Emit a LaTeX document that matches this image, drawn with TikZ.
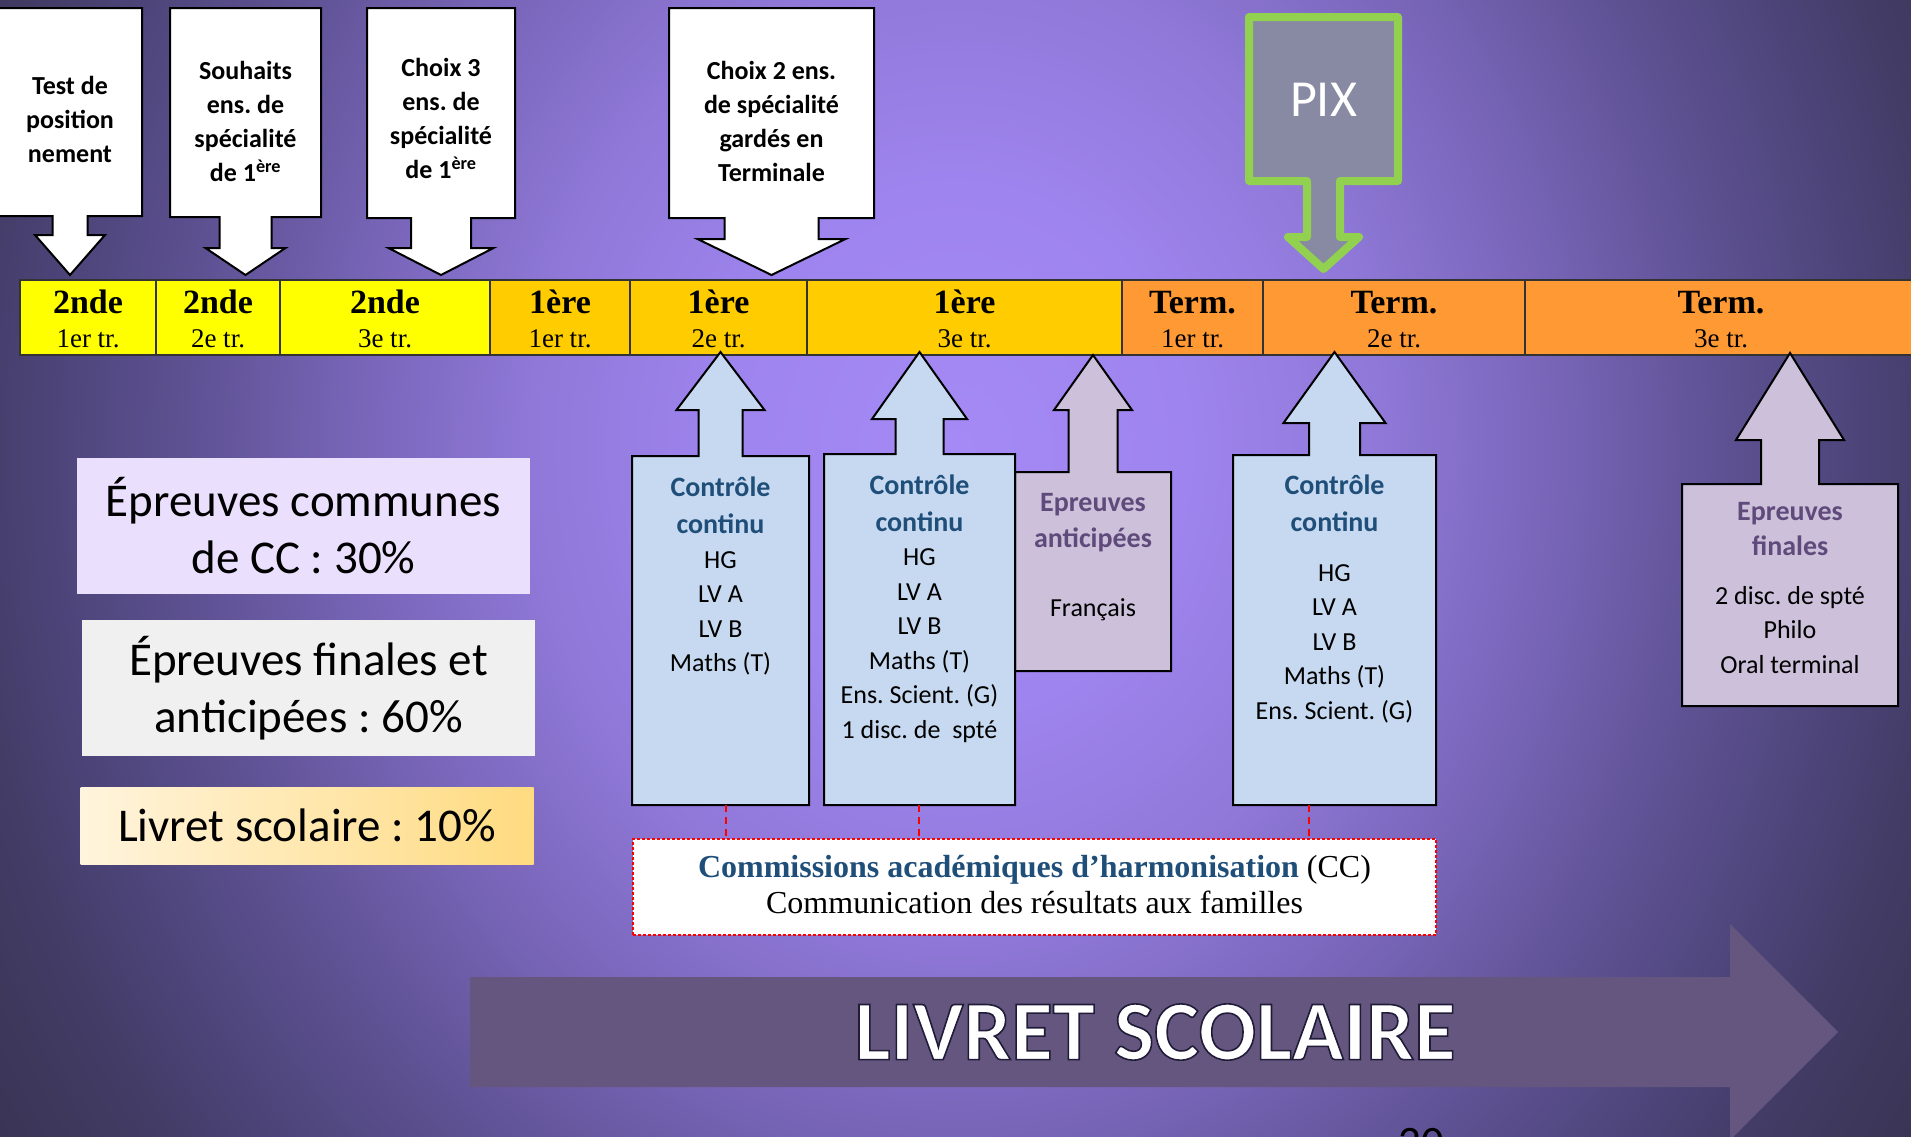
\documentclass[tikz,border=0pt]{standalone}
\usepackage{fontspec}
\setmainfont{Carlito}
\newfontfamily\timesfont{Liberation Serif}
\frenchspacing
\usetikzlibrary{positioning,calc}

\definecolor{bgzero}{RGB}{165,138,246}
\definecolor{bgone}{RGB}{158,132,238}
\definecolor{bgtwo}{RGB}{143,120,216}
\definecolor{bgthree}{RGB}{120,101,184}
\definecolor{bgfour}{RGB}{96,83,150}
\definecolor{bgfive}{RGB}{76,68,120}
\definecolor{bgsix}{RGB}{66,59,100}
\definecolor{bgseven}{RGB}{56,51,82}
\definecolor{secyellow}{RGB}{255,255,0}
\definecolor{premgold}{RGB}{255,204,0}
\definecolor{termorange}{RGB}{255,153,51}
\definecolor{ccblue}{RGB}{198,217,240}
\definecolor{ccnavy}{RGB}{31,78,121}
\definecolor{eplilac}{RGB}{204,192,218}
\definecolor{epplum}{RGB}{96,74,123}
\definecolor{pixgreen}{RGB}{146,208,80}
\definecolor{pixgray}{RGB}{135,138,162}
\definecolor{lavender}{RGB}{234,223,252}
\definecolor{palegray}{RGB}{240,240,240}
\definecolor{creamleft}{RGB}{255,244,221}
\definecolor{creamright}{RGB}{255,219,128}
\definecolor{livretplum}{RGB}{101,86,128}

\pgfdeclareradialshading{slidebg}{\pgfpoint{0bp}{0bp}}{color(0bp)=(bgzero); color(6bp)=(bgone); color(11bp)=(bgtwo); color(15.5bp)=(bgthree); color(19.5bp)=(bgfour); color(23.5bp)=(bgfive); color(26bp)=(bgsix); color(30bp)=(bgseven); color(50bp)=(bgseven)}

% box with an arrow: style, centre x, half width, edge with arrow, far edge,
% half shaft, half head, head base, tip
\newcommand{\callout}[9]{%
  \draw[#1] (#2-#3,#5) -- (#2-#3,#4) -- (#2-#6,#4) -- (#2-#6,#8) -- (#2-#7,#8)
    -- (#2,#9) -- (#2+#7,#8) -- (#2+#6,#8) -- (#2+#6,#4) -- (#2+#3,#4)
    -- (#2+#3,#5) -- cycle;}
% white letters with a dark rim
\newcommand{\rimtext}[1]{\special{pdf:literal direct 2 Tr 1.6 w 0.12 0.11 0.22 RG}#1\special{pdf:literal direct 0 Tr}}

\begin{document}
\begin{tikzpicture}[x=1pt, y=-1pt,
    every node/.style={inner sep=0pt},
    topbox/.style={draw=black, line width=2pt, fill=white},
    ccbox/.style={draw=black, line width=2pt, fill=ccblue},
    epbox/.style={draw=black, line width=2pt, fill=eplilac},
    pixbox/.style={draw=pixgreen, line width=8pt, line join=round, fill=pixgray},
    cell/.style={draw=black!80, line width=1.5pt},
    yrlabel/.style={anchor=base, font=\timesfont\bfseries\fontsize{34}{34}\selectfont},
    trlabel/.style={anchor=base, font=\timesfont\fontsize{27}{27}\selectfont},
    toptext/.style={align=center, font=\bfseries\fontsize{26}{34}\selectfont},
    cctitle/.style={align=center, text=ccnavy, font=\bfseries\fontsize{28}{37}\selectfont},
    eptitle/.style={align=center, text=epplum, font=\bfseries\fontsize{28}{35}\selectfont},
    ccbody/.style={align=center, font=\fontsize{26}{34.5}\selectfont},
    legend/.style={align=center, minimum width=453, font=\fontsize{47}{57}\selectfont},
    cclink/.style={draw=red, line width=1.5pt, dash pattern=on 7pt off 5pt}]

  \useasboundingbox (0,0) rectangle (1911,1136);
  \shade[shading=slidebg] (-10,-650) rectangle (1921,1550);

  % arrows from the top
  \callout{topbox}{70}{72}{216}{8}{17.5}{35}{235}{275}
  \callout{topbox}{245.5}{75.5}{217}{8}{26}{40}{248}{275}
  \callout{topbox}{441}{74}{218}{8}{30}{52.5}{248}{275}
  \callout{topbox}{771.5}{102.5}{218}{8}{47}{74}{239}{275}
  \callout{pixbox}{1323.5}{74.5}{181}{17}{16.5}{35.5}{237}{269}

  \node[toptext] (pos) at (70,119.5) {Test de\\position\\nement};
  \node[toptext] (souhaits) at (245.5,121.5) {Souhaits\\ens. de\\spécialité\\de 1\textsuperscript{ère}};
  \node[toptext] (choix3) at (441,118) {Choix 3\\ens. de\\spécialité\\de 1\textsuperscript{ère}};
  \node[toptext] (choix2) at (771.5,121.5) {Choix 2 ens.\\de spécialité\\gardés en\\Terminale};
  \node[text=white, font=\fontsize{52}{52}\selectfont] (pix) at (1323.5,100) {PIX};

  % timeline
  \foreach \xa/\xb/\col/\yr/\tr [count=\i] in {
      20/156/secyellow/2nde/1er tr.,
      156/280/secyellow/2nde/2e tr.,
      280/490/secyellow/2nde/3e tr.,
      490/630/premgold/1ère/1er tr.,
      630/807/premgold/1ère/2e tr.,
      807/1122/premgold/1ère/3e tr.,
      1122/1263/termorange/Term./1er tr.,
      1263/1525/termorange/Term./2e tr.,
      1525/1917/termorange/Term./3e tr.}{
    \draw[cell, fill=\col] (\xa,280) rectangle (\xb,355);
    \node[yrlabel] (yr\i) at ({(\xa+\xb)/2},313) {\yr};
    \node[trlabel] (tr\i) at ({(\xa+\xb)/2},347) {\tr};
  }

  % arrows from below
  \callout{ccbox}{720.5}{88.5}{456}{805}{22}{44}{410}{352}
  \callout{epbox}{1093}{78}{472}{671}{24.5}{39}{410}{355}
  \callout{ccbox}{919.5}{95.5}{454}{805}{24}{47.5}{419}{352}
  \callout{ccbox}{1334.5}{101.5}{455}{805}{25.5}{51}{423}{352}
  \callout{epbox}{1790}{108}{484}{706}{29}{54}{440}{353}

  \node[cctitle] (cc1) at (720.5,505) {Contrôle\\continu};
  \node[ccbody] (cc1list) at (720.5,613.5) {HG\\LV A\\LV B\\Maths (T)};
  \node[cctitle] (cc2) at (919.5,503.5) {Contrôle\\continu};
  \node[ccbody] (cc2list) at (919.5,645.5) {HG\\LV A\\LV B\\Maths (T)\\Ens. Scient. (G)\\1 disc. de~ spté};
  \node[eptitle, font=\bfseries\fontsize{28}{36}\selectfont] (ea) at (1093,522.5) {Epreuves\\anticipées};
  \node[ccbody] (ealist) at (1093,609.5) {Français};
  \node[cctitle] (cc3) at (1334.5,503.5) {Contrôle\\continu};
  \node[ccbody] (cc3list) at (1334.5,643.5) {HG\\LV A\\LV B\\Maths (T)\\Ens. Scient. (G)};
  \node[eptitle] (ef) at (1790,529) {Epreuves\\finales};
  \node[ccbody] (eflist) at (1790,630) {2 disc. de spté\\Philo\\Oral terminal};

  % weights
  \node[legend, fill=lavender, minimum height=136] (w30) at (303.5,526) {Épreuves communes\\de CC : 30\%};
  \node[legend, fill=palegray, minimum height=136] (w60) at (308.5,688) {Épreuves finales et\\anticipées : 60\%};
  \node[legend, left color=creamleft, right color=creamright, minimum height=77] (w10) at (307,825.5) {Livret scolaire : 10\%};

  % harmonisation
  \node[draw=red, line width=1.5pt, dash pattern=on 3pt off 2pt, fill=white,
        minimum width=803, minimum height=96] (cah) at (1034.5,887) {};
  \node[align=center, font=\timesfont\fontsize{32}{36}\selectfont] (cahtext) at (1034.5,884.5)
        {\textbf{\textcolor{ccnavy}{Commissions académiques d’harmonisation}} (CC)\\Communication des résultats aux familles};
  \coordinate (cc1foot) at (726,805);
  \coordinate (cc2foot) at (919,805);
  \coordinate (cc3foot) at (1309,805);
  \foreach \f in {cc1foot,cc2foot,cc3foot}
    \draw[cclink] (\f) -- (\f |- cah.north);

  % livret scolaire
  \fill[livretplum] (470,977) -- (1730,977) -- (1730,924) -- (1838,1032)
    -- (1730,1140) -- (1730,1087) -- (470,1087) -- cycle;
  \node[text=white, font=\bfseries\fontsize{85}{85}\selectfont] (livret) at (1155,1032)
    {\rimtext{LIVRET SCOLAIRE}};
  \node[anchor=base, font=\fontsize{45}{45}\selectfont] (pagenum) at (1421,1157) {20};
\end{tikzpicture}
\end{document}
